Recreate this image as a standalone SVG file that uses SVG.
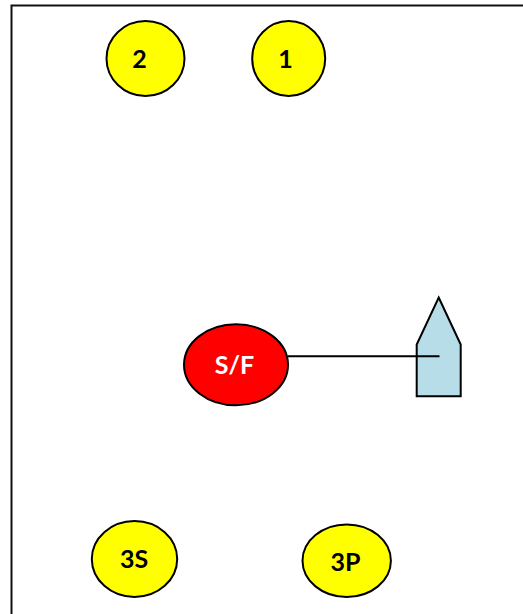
<svg xmlns="http://www.w3.org/2000/svg" width="523" height="614" viewBox="0 0 523 614">
<style>
.o{stroke:#000;stroke-width:2;stroke-linejoin:miter}
.y{fill:#ff0}
text{font-family:Lato,"Liberation Sans",sans-serif;font-weight:700;font-size:25px;text-anchor:middle;fill:#000}
</style>
<rect width="523" height="614" fill="#fff"/>
<path id="frame" d="M11.500 614V5.500H523" fill="none" stroke="#111" stroke-width="2"/>
<g id="node-2"><ellipse class="o y" cx="145.500" cy="58.500" rx="39" ry="37.500"/><text x="139.500" y="68">2</text></g>
<g id="node-1"><ellipse class="o y" cx="288.700" cy="58.500" rx="36.500" ry="37.500"/><text x="285.500" y="68">1</text></g>
<g id="node-sf"><ellipse class="o" fill="#f00" cx="236" cy="364.800" rx="52" ry="40.500"/><text x="234.500" y="373.500" style="fill:#fff">S/F</text></g>
<g id="node-boat"><path class="o" fill="#b7dde8" d="M438.700 297.500L460.700 344.500V396.300H416.700V344.500Z"/></g>
<g id="node-3s"><ellipse class="o y" cx="134.500" cy="559" rx="42.700" ry="38"/><text x="134" y="568">3S</text></g>
<g id="node-3p"><ellipse class="o y" cx="346.700" cy="560.700" rx="44.200" ry="36.300"/><text x="345.500" y="571">3P</text></g>
<g id="connectors"><line x1="288" y1="356.300" x2="439.500" y2="356.300" stroke="#000" stroke-width="2"/></g>
</svg>
